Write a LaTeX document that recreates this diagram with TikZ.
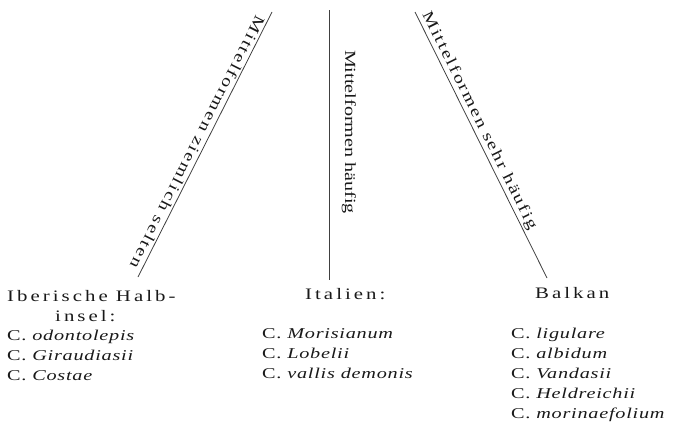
\documentclass[tikz,border=0pt]{standalone}
\usepackage{fontspec}
\setmainfont{Liberation Serif}
\newfontfamily\labfont{Liberation Serif}[FakeStretch=1.3,LetterSpace=12]
\newfontfamily\labfontm{Liberation Serif}[FakeStretch=1.3]
\newfontfamily\headfont{Liberation Serif}[FakeStretch=1.3,LetterSpace=19]
\newfontfamily\spfont{Liberation Serif}[FakeStretch=1.35,LetterSpace=5]
\begin{document}
\begin{tikzpicture}[x=1pt,y=-1pt,
  conn/.style={draw=black!75,line width=0.8pt},
  lab/.style={inner sep=1.5pt,text=black!90,font=\labfont\fontsize{15.5}{18}\selectfont},
  labm/.style={inner sep=0pt,text=black!90,font=\labfontm\fontsize{15.5}{18}\selectfont},
  head/.style={anchor=base west,inner sep=0pt,text=black!90,font=\headfont\fontsize{16}{20}\selectfont},
  spec/.style={anchor=base west,inner sep=0pt,text=black!90,font=\spfont\fontsize{15}{20}\selectfont}]
\useasboundingbox (0,0) rectangle (684,423);
% connector end points
\coordinate (lt) at (272,12);
\coordinate (lb) at (138,277);
\coordinate (mt) at (329.5,10);
\coordinate (mb) at (329.5,280);
\coordinate (rt) at (415,12);
\coordinate (rb) at (547,278);
% connectors with labels
\draw[conn] (lt) -- (lb)
  node[lab,pos=0.505,rotate=-116.83,anchor=north] (l1) {Mittelformen ziemlich selten};
\draw[conn] (mt) -- (mb);
\node[labm,rotate=-90,anchor=south] (m1) at (341.5,132) {Mittelformen häufig};
\draw[conn] (rt) -- (rb)
  node[lab,pos=0.425,rotate=-63.61,anchor=south] (r1) {Mittelformen sehr häufig};
% Iberische Halbinsel
\node[head] (h1) at (7,301) {Iberische Halb-};
\node[head] (h1b) at (55,321) {insel:};
\node[spec] (s11) at (7,340) {C. \textit{odontolepis}};
\node[spec] (s12) at (7,360) {C. \textit{Giraudiasii}};
\node[spec] (s13) at (7,380) {C. \textit{Costae}};
% Italien
\node[head] (h2) at (305,299) {Italien:};
\node[spec] (s21) at (262,338) {C. \textit{Morisianum}};
\node[spec] (s22) at (262,358) {C. \textit{Lobelii}};
\node[spec] (s23) at (262,378) {C. \textit{vallis demonis}};
% Balkan
\node[head] (h3) at (535,298) {Balkan};
\node[spec] (s31) at (511,338) {C. \textit{ligulare}};
\node[spec] (s32) at (511,358) {C. \textit{albidum}};
\node[spec] (s33) at (511,378) {C. \textit{Vandasii}};
\node[spec] (s34) at (511,398) {C. \textit{Heldreichii}};
\node[spec] (s35) at (511,418) {C. \textit{morinaefolium}};
\end{tikzpicture}
\end{document}
